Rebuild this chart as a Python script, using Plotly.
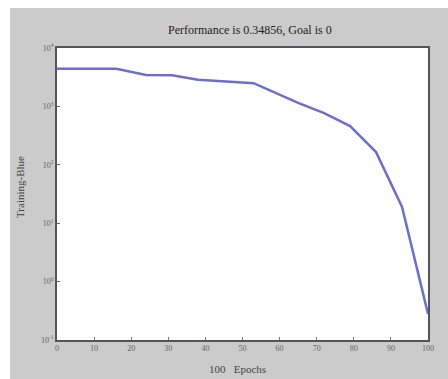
import plotly.graph_objects as go

epochs = [0, 16, 24, 31, 38, 53, 65, 72, 79, 86, 93, 100]
performance = [4400, 4400, 3450, 3400, 2850, 2500, 1150, 770, 460, 165, 19, 0.28]
x_ticks = [0, 10, 20, 30, 40, 50, 60, 70, 80, 90, 100]
y_exps = [-1, 0, 1, 2, 3, 4]

W, H = 448, 379
L, R, T, B = 57, 20, 48, 39
pw, ph = W - L - R, H - T - B

def px(xp):
    return (xp - L) / pw

def py(yp):
    return (H - B - yp) / ph

font = "Liberation Serif"
fig = go.Figure()
fig.add_trace(go.Scatter(x=epochs, y=performance, mode="lines",
                         line=dict(color="#6e6ecc", width=2.5), showlegend=False))

fig.update_layout(
    width=W, height=H,
    margin=dict(l=L, r=R, t=T, b=B),
    paper_bgcolor="white",
    plot_bgcolor="rgba(0,0,0,0)",
    font=dict(family=font, size=8, color="#555"),
    shapes=[
        dict(type="rect", xref="paper", yref="paper", x0=px(10), x1=px(448), y0=py(379), y1=py(8),
             fillcolor="#cbcbcb", line=dict(width=0), layer="below"),
        dict(type="rect", xref="paper", yref="paper", x0=0, x1=1, y0=0, y1=1,
             fillcolor="white", line=dict(width=0), layer="below"),
    ],
    xaxis=dict(range=[0, 100], tickvals=x_ticks, ticks="inside", ticklen=3, tickcolor="#4a8a8a",
               showgrid=False, zeroline=False, showline=True, linecolor="#555", linewidth=1.5,
               mirror=True, tickfont=dict(family=font, size=8, color="#666")),
    yaxis=dict(type="log", range=[-1, 4], tickvals=[10 ** e for e in y_exps],
               ticktext=[f"10<sup>{e}</sup>" for e in y_exps],
               ticks="inside", ticklen=3, tickcolor="#666",
               showgrid=False, zeroline=False, showline=True, linecolor="#555", linewidth=1.5,
               mirror=True, tickfont=dict(family=font, size=8, color="#666")),
    annotations=[
        dict(text="Performance is 0.34856, Goal is 0", xref="paper", yref="paper",
             x=px(250), y=py(30), xanchor="center", yanchor="middle", showarrow=False,
             font=dict(family=font, size=12, color="#222")),
        dict(text="100\u00a0\u00a0 Epochs", xref="paper", yref="paper",
             x=px(237), y=py(369), xanchor="center", yanchor="middle", showarrow=False,
             font=dict(family=font, size=11, color="#444")),
        dict(text="Training-Blue", xref="paper", yref="paper", textangle=-90,
             x=px(20), y=py(187), xanchor="center", yanchor="middle", showarrow=False,
             font=dict(family=font, size=11, color="#444")),
    ],
)

fig.write_html("out.html")
